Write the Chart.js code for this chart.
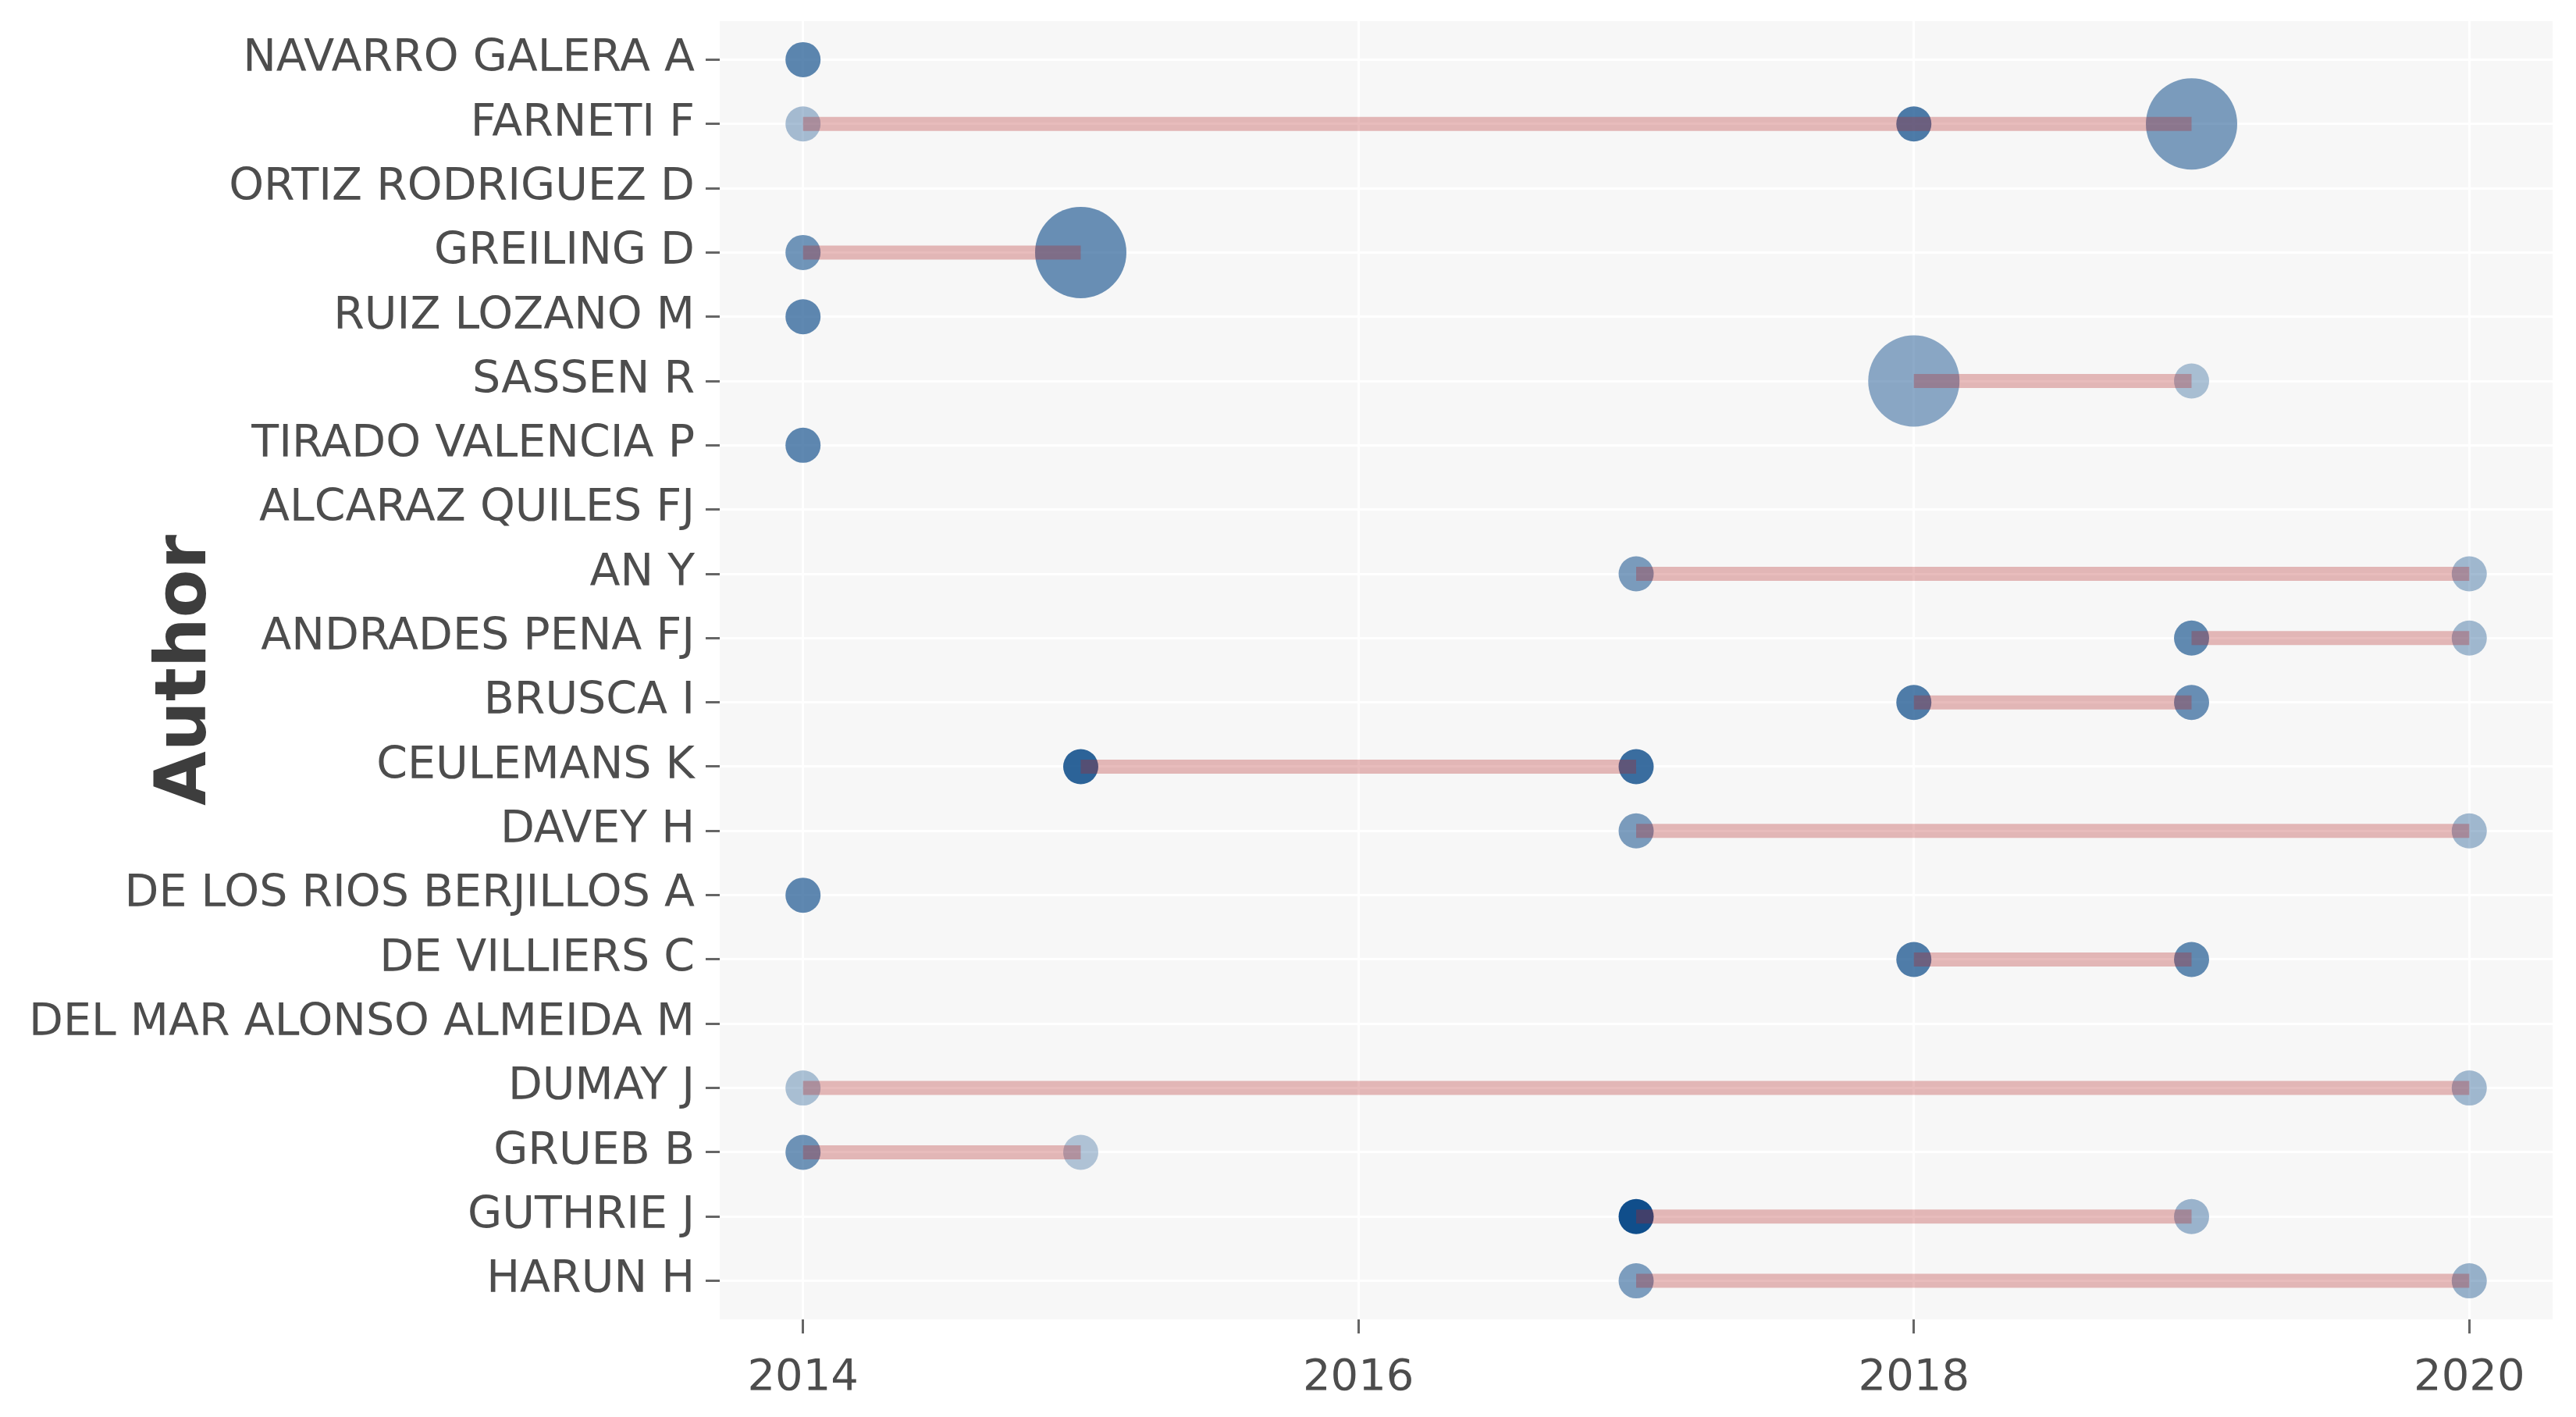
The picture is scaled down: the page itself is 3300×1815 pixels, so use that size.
<!DOCTYPE html>
<html>
<head>
<meta charset="utf-8">
<title>Authors' production over time</title>
<script src="https://cdn.jsdelivr.net/npm/chart.js@4.4.1/dist/chart.umd.min.js"></script>
<style>
  html, body { margin: 0; padding: 0; background: #ffffff; }
  #wrap { width: 3300px; height: 1815px; }
</style>
</head>
<body>
<div id="wrap"><canvas id="authorChart"></canvas></div>
<script>
// authors, top to bottom
const authors = [
    'NAVARRO GALERA A', 'FARNETI F', 'ORTIZ RODRIGUEZ D', 'GREILING D',
    'RUIZ LOZANO M', 'SASSEN R', 'TIRADO VALENCIA P', 'ALCARAZ QUILES FJ',
    'AN Y', 'ANDRADES PENA FJ', 'BRUSCA I', 'CEULEMANS K', 'DAVEY H',
    'DE LOS RIOS BERJILLOS A', 'DE VILLIERS C', 'DEL MAR ALONSO ALMEIDA M',
    'DUMAY J', 'GRUEB B', 'GUTHRIE J', 'HARUN H'
];

const yearTicks = [2014, 2016, 2018, 2020];

// one entry per (author, year) point
const pointAuthor = [
    'NAVARRO GALERA A',
    'FARNETI F', 'FARNETI F', 'FARNETI F',
    'GREILING D', 'GREILING D',
    'RUIZ LOZANO M',
    'SASSEN R', 'SASSEN R',
    'TIRADO VALENCIA P',
    'AN Y', 'AN Y',
    'ANDRADES PENA FJ', 'ANDRADES PENA FJ',
    'BRUSCA I', 'BRUSCA I',
    'CEULEMANS K', 'CEULEMANS K',
    'DAVEY H', 'DAVEY H',
    'DE LOS RIOS BERJILLOS A',
    'DE VILLIERS C', 'DE VILLIERS C',
    'DUMAY J', 'DUMAY J',
    'GRUEB B', 'GRUEB B',
    'GUTHRIE J', 'GUTHRIE J',
    'HARUN H', 'HARUN H'
];
const pointYear = [
    2014,
    2014, 2018, 2019,
    2014, 2015,
    2014,
    2018, 2019,
    2014,
    2017, 2020,
    2019, 2020,
    2018, 2019,
    2015, 2017,
    2017, 2020,
    2014,
    2018, 2019,
    2014, 2020,
    2014, 2015,
    2017, 2019,
    2017, 2020
];
const pointArticles = [
    1,
    1, 1, 2,
    1, 2,
    1,
    2, 1,
    1,
    1, 1,
    1, 1,
    1, 1,
    1, 1,
    1, 1,
    1,
    1, 1,
    1, 1,
    1, 1,
    1, 1,
    1, 1
];
const pointTcPerYear = [
    29,
    13, 32, 22,
    24.5, 26,
    28.5,
    19, 12,
    28.5,
    22, 14,
    27.5, 14,
    31.5, 26,
    39, 36,
    22, 14,
    28.5,
    31.5, 27.5,
    12, 14,
    25, 10.5,
    45, 15,
    21.5, 16
];

const maxTc = Math.max(...pointTcPerYear);
const minArt = Math.min(...pointArticles);
const maxArt = Math.max(...pointArticles);

// alpha scale 0.1 - 1 on citations per year
function pointAlpha(tc) {
    return 0.1 + 0.9 * tc / maxTc;
}

// size scale on number of articles (area based)
function pointSize(n) {
    const rMin = 22.5, rMax = 58.5;
    if (maxArt === minArt) return rMin;
    const t = (Math.sqrt(n) - Math.sqrt(minArt)) / (Math.sqrt(maxArt) - Math.sqrt(minArt));
    return rMin + t * (rMax - rMin);
}

const points = pointYear.map((yr, i) => ({ x: yr, y: authors.indexOf(pointAuthor[i]) }));

// a line from first to last year for each author
const segments = [];
authors.forEach((name, idx) => {
    const years = pointYear.filter((yr, i) => pointAuthor[i] === name);
    if (years.length < 2) return;
    segments.push({
        type: 'line',
        data: [{ x: Math.min(...years), y: idx }, { x: Math.max(...years), y: idx }],
        borderColor: 'rgba(178, 34, 34, 0.3)',
        borderWidth: 18,
        borderCapStyle: 'butt',
        pointRadius: 0,
        fill: false,
        order: 0
    });
});

const panelBackground = {
    id: 'panelBackground',
    beforeDraw(chart) {
        const { ctx, chartArea: a } = chart;
        ctx.save();
        ctx.fillStyle = '#f7f7f7';
        ctx.fillRect(a.left, a.top, a.width, a.height);
        ctx.restore();
    }
};

new Chart(document.getElementById('authorChart'), {
    type: 'scatter',
    data: {
        datasets: [
            ...segments,
            {
                type: 'scatter',
                data: points,
                pointRadius: (ctx) => pointSize(pointArticles[ctx.dataIndex]),
                pointBackgroundColor: (ctx) => 'rgba(16, 78, 139, ' + pointAlpha(pointTcPerYear[ctx.dataIndex]).toFixed(3) + ')',
                pointBorderWidth: 0,
                order: 1
            }
        ]
    },
    options: {
        responsive: true,
        maintainAspectRatio: false,
        animation: false,
        events: [],
        layout: { autoPadding: false, padding: { top: 27, right: 30, left: 0, bottom: 0 } },
        plugins: {
            legend: { display: false },
            tooltip: { enabled: false }
        },
        scales: {
            x: {
                type: 'linear',
                min: 2013.7,
                max: 2020.3,
                afterBuildTicks: (s) => { s.ticks = yearTicks.map(v => ({ value: v })); },
                afterFit: (s) => { s.height = 125; s.paddingLeft = 0; s.paddingRight = 0; },
                border: { display: false },
                grid: { color: '#ffffff', lineWidth: 3, tickColor: '#666666', tickLength: 18, tickWidth: 3 },
                ticks: {
                    font: { family: 'DejaVu Sans', size: 56 },
                    color: '#4d4d4d',
                    padding: 24,
                    maxRotation: 0,
                    autoSkip: false,
                    callback: (v) => String(v)
                }
            },
            y: {
                type: 'linear',
                reverse: true,
                min: -0.6,
                max: 19.6,
                afterBuildTicks: (s) => { s.ticks = authors.map((a, i) => ({ value: i })); },
                afterFit: (s) => { s.width = 922; s.paddingTop = 0; s.paddingBottom = 0; },
                border: { display: false },
                grid: { color: '#ffffff', lineWidth: 3, tickColor: '#666666', tickLength: 18, tickWidth: 3 },
                ticks: {
                    font: { family: 'DejaVu Sans', size: 57 },
                    color: '#4d4d4d',
                    padding: 14,
                    autoSkip: false,
                    callback: (v) => authors[v]
                },
                title: {
                    display: true,
                    text: 'Author',
                    color: '#3d3d3d',
                    font: { family: 'DejaVu Sans', size: 90, weight: 'bold' },
                    padding: { top: 186, bottom: 0 }
                }
            }
        }
    },
    plugins: [panelBackground]
});
</script>
</body>
</html>
